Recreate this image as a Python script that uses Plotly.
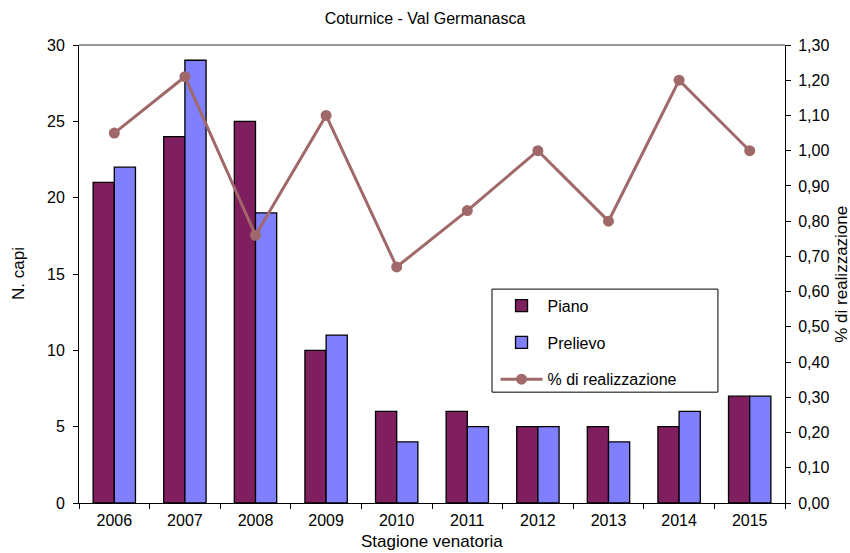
import plotly.graph_objects as go

# Hunting seasons and harvest data for rock partridge (Coturnice)
seasons = ["2006", "2007", "2008", "2009", "2010", "2011", "2012", "2013", "2014", "2015"]
piano = [21, 24, 25, 10, 6, 6, 5, 5, 5, 7]
prelievo = [22, 29, 19, 11, 4, 5, 5, 4, 6, 7]
realizzazione = [1.05, 1.21, 0.76, 1.10, 0.67, 0.83, 1.00, 0.80, 1.20, 1.00]

FONT = "Liberation Sans, Arial, sans-serif"

fig = go.Figure()
fig.add_trace(go.Bar(
    x=seasons, y=piano, name="Piano", legendgroup="a",
    marker=dict(color="#801F60", line=dict(color="black", width=1.3)),
))
fig.add_trace(go.Bar(
    x=seasons, y=prelievo, name="Prelievo", legendgroup="b",
    marker=dict(color="#8080FF", line=dict(color="black", width=1.3)),
))
fig.add_trace(go.Scatter(
    x=seasons, y=realizzazione, name="% di realizzazione", legendgroup="c",
    yaxis="y2", mode="lines+markers",
    line=dict(color="#A06868", width=3),
    marker=dict(color="#A06868", size=11),
))

axis_common = dict(showline=True, linecolor="black", linewidth=1, ticks="outside",
                   ticklen=5, tickcolor="black", showgrid=False, zeroline=False,
                   automargin=False, tickfont=dict(size=16))

fig.update_layout(
    width=850, height=553,
    margin=dict(l=79, r=65, t=45, b=50),
    paper_bgcolor="white", plot_bgcolor="white",
    separators=",.",
    font=dict(family=FONT, size=16, color="black"),
    title=dict(text="Coturnice - Val Germanasca", x=0.5, xanchor="center",
               y=0.967, yanchor="middle", font=dict(size=16)),
    barmode="group", bargap=0.4, bargroupgap=0,
    showlegend=True,
    legend=dict(x=0.59, y=0.468, xanchor="left", yanchor="top",
                borderwidth=0, bgcolor="rgba(0,0,0,0)",
                font=dict(size=16), tracegroupgap=13, itemwidth=42),
    xaxis=dict(tickson="boundaries", range=[-0.5, 9.5], ticklabelstandoff=3,
               **axis_common),
    yaxis=dict(range=[0, 30], dtick=5, ticklabelstandoff=5, **axis_common),
    yaxis2=dict(range=[0, 1.3], dtick=0.1, tickformat=".2f", overlaying="y",
                side="right", ticklabelstandoff=4, **axis_common),
    shapes=[
        dict(type="line", xref="paper", yref="paper", x0=0, x1=1, y0=1, y1=1,
             line=dict(color="#999999", width=2)),
        # legend frame
        dict(type="rect", xref="paper", yref="paper", layer="below",
             x0=0.585, x1=0.905, y0=0.242, y1=0.467,
             line=dict(color="black", width=1), fillcolor="white"),
    ],
    annotations=[
        dict(text="N. capi", xref="paper", yref="paper", x=-0.0864, y=0.5,
             xanchor="center", yanchor="middle", textangle=-90, showarrow=False,
             font=dict(size=17)),
        dict(text="% di realizzazione", xref="paper", yref="paper", x=1.079, y=0.5,
             xanchor="center", yanchor="middle", textangle=-90, showarrow=False,
             font=dict(size=17)),
        dict(text="Stagione venatoria", xref="paper", yref="paper", x=0.5, y=-0.083,
             xanchor="center", yanchor="middle", showarrow=False,
             font=dict(size=17)),
    ],
)

fig.write_html("out.html")
